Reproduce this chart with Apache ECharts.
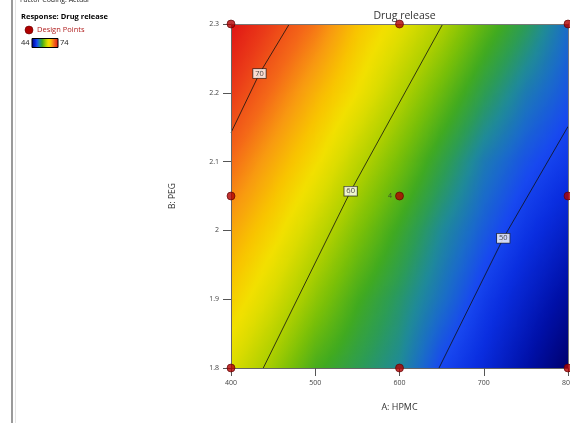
<!DOCTYPE html>
<html>
<head>
<meta charset="utf-8">
<script src="https://cdn.jsdelivr.net/npm/echarts@6/dist/echarts.min.js"></script>
<style>
html,body{margin:0;padding:0;background:#fff;}
#chart{width:570px;height:423px;}
</style>
</head>
<body>
<div id="chart"></div>
<script>
// ---- data ----
const gridA = [400, 450, 500, 550, 600, 650, 700, 750, 800];          // A: HPMC
const gridB = [1.8, 1.9, 2.0, 2.1, 2.2, 2.3];                          // B: PEG
const releaseGrid = [                                                   // rows follow gridB
  [62.0, 59.3, 56.3, 54.6, 53.0, 49.9, 48.1, 46.0, 43.7],
  [64.4, 61.7, 58.8, 56.15, 54.05, 51.7, 49.3, 47.4, 45.5],
  [66.5, 64.0, 61.1, 58.3, 55.7, 53.0, 50.8, 48.9, 47.3],
  [68.9, 66.25, 63.6, 60.6, 57.9, 55.0, 52.2, 50.4, 49.1],
  [71.5, 68.7, 65.9, 63.2, 60.3, 57.5, 54.65, 52.2, 50.5],
  [74.0, 71.1, 68.5, 65.1, 62.6, 60.05, 57.1, 54.5, 51.5]
];
const contour70 = [[400, 2.142], [433.8, 2.228], [469.2, 2.3]];
const contour60 = [[438.3, 1.8], [542.0, 2.057], [651.3, 2.3]];
const contour50 = [[646.9, 1.8], [723.2, 1.9885], [800, 2.151]];
const contourLevels = [70, 60, 50];
const contourLabelA = [433.8, 542.0, 723.2];
const contourLabelB = [2.228, 2.057, 1.9885];
const designA = [400, 600, 800, 400, 600, 800, 400, 600, 800];
const designB = [1.8, 1.8, 1.8, 2.05, 2.05, 2.05, 2.3, 2.3, 2.3];
const designLabels = ['', '', '', '', '4', '', '', '', ''];
const responseMin = 44, responseMax = 74;

// ---- colour scale (style) ----
const colorScale = [
  [43.7, '#00006e'], [46, '#0010a8'], [48.5, '#0a2ee0'], [50, '#1848f0'],
  [51.5, '#1a6cc8'], [53, '#1f8a98'], [54.5, '#2c9c55'], [56, '#40aa20'],
  [58, '#78bf08'], [60, '#b0d000'], [62, '#dcdc00'], [63.3, '#f2e000'],
  [65, '#f8c400'], [67, '#f89a10'], [69, '#f46818'], [71.5, '#ea3a18'], [74, '#e01414']
];
function hexRgb(h){return [parseInt(h.substr(1,2),16),parseInt(h.substr(3,2),16),parseInt(h.substr(5,2),16)];}
function colorOf(v){
  if (v <= colorScale[0][0]) return colorScale[0][1];
  for (let i = 1; i < colorScale.length; i++) {
    if (v <= colorScale[i][0]) {
      const a = colorScale[i-1], b = colorScale[i];
      const t = (v - a[0]) / (b[0] - a[0]);
      const ca = hexRgb(a[1]), cb = hexRgb(b[1]);
      return 'rgb(' + ca.map((c, k) => Math.round(c + (cb[k]-c)*t)).join(',') + ')';
    }
  }
  return colorScale[colorScale.length-1][1];
}

// cells built from the grid
const cells = [];
for (let j = 0; j < gridB.length - 1; j++) {
  for (let i = 0; i < gridA.length - 1; i++) {
    cells.push([gridA[i], gridA[i+1], gridB[j], gridB[j+1],
      releaseGrid[j][i], releaseGrid[j][i+1], releaseGrid[j+1][i], releaseGrid[j+1][i+1]]);
  }
}

const SUB = 5;
function renderCell(params, api) {
  const A0 = api.value(0), A1 = api.value(1), B0 = api.value(2), B1 = api.value(3);
  const c00 = api.value(4), c10 = api.value(5), c01 = api.value(6), c11 = api.value(7);
  const bil = (s, t) => c00*(1-s)*(1-t) + c10*s*(1-t) + c01*(1-s)*t + c11*s*t;
  const P00 = api.coord([A0, B0]), P11 = api.coord([A1, B1]);
  const rect = params.coordSys;
  const children = [];
  for (let a = 0; a < SUB; a++) {
    for (let b = 0; b < SUB; b++) {
      const s0 = a / SUB, s1 = (a + 1) / SUB, t0 = b / SUB, t1 = (b + 1) / SUB;
      const v00 = bil(s0, t0), v10 = bil(s1, t0), v01 = bil(s0, t1), v11 = bil(s1, t1);
      const px0 = P00[0] + (P11[0] - P00[0]) * s0, px1 = P00[0] + (P11[0] - P00[0]) * s1;
      const py0 = P00[1] + (P11[1] - P00[1]) * t0, py1 = P00[1] + (P11[1] - P00[1]) * t1;
      const dx = px1 - px0, dy = py1 - py0;
      const gx = ((v10 - v00) + (v11 - v01)) / 2 / dx;
      const gy = ((v01 - v00) + (v11 - v10)) / 2 / dy;
      const cx = px0 + dx / 2, cy = py0 + dy / 2;
      const vc = (v00 + v10 + v01 + v11) / 4;
      const g = Math.hypot(gx, gy) || 1e-9;
      const nx = gx / g, ny = gy / g;
      const k = (Math.abs(dx * nx) + Math.abs(dy * ny)) / 2 + 1;
      const stops = [];
      for (let q = 0; q <= 4; q++) {
        const t = q / 4;
        stops.push({offset: t, color: colorOf(vc + (2 * t - 1) * k * g)});
      }
      let x0 = Math.min(px0, px1) - 0.5, x1 = Math.max(px0, px1) + 0.5;
      let y0 = Math.min(py0, py1) - 0.5, y1 = Math.max(py0, py1) + 0.5;
      x0 = Math.max(x0, rect.x); x1 = Math.min(x1, rect.x + rect.width);
      y0 = Math.max(y0, rect.y); y1 = Math.min(y1, rect.y + rect.height);
      children.push({
        type: 'rect', silent: true,
        shape: {x: x0, y: y0, width: x1 - x0, height: y1 - y0},
        style: {fill: {type: 'linear', x: cx - k * nx, y: cy - k * ny, x2: cx + k * nx, y2: cy + k * ny,
          global: true, colorStops: stops}}
      });
    }
  }
  return {type: 'group', children: children};
}

const legendStops = [];
for (let s = 0; s <= 20; s++) legendStops.push({offset: s / 20, color: colorOf(responseMin + (responseMax - responseMin) * s / 20)});

const chart = echarts.init(document.getElementById('chart'), null, {renderer: 'canvas'});
const FONT = 'Open Sans';
const contourLine = (d) => ({
  type: 'line', data: d, symbol: 'none', silent: true, z: 3,
  lineStyle: {color: '#111', width: 0.8}
});
chart.setOption({
  animation: false,
  textStyle: {fontFamily: FONT},
  title: {text: 'Drug release', left: 399.5, textAlign: 'center', top: 6,
    textStyle: {fontSize: 10.5, fontWeight: 'normal', color: '#333', fontFamily: FONT}},
  grid: {left: 231, top: 24, right: 2, bottom: 55, show: false, containLabel: false, outerBoundsMode: 'none'},
  xAxis: [{
    type: 'value', min: 400, max: 800, interval: 100, z: 5,
    axisLine: {show: true, lineStyle: {color: '#666', width: 1}},
    axisTick: {show: true, length: 8, lineStyle: {color: '#555'}},
    axisLabel: {fontSize: 7, color: '#444', margin: 11, fontFamily: FONT},
    splitLine: {show: false},
    name: 'A: HPMC', nameLocation: 'middle', nameGap: 35,
    nameTextStyle: {fontSize: 9, color: '#333', fontFamily: FONT}
  }, {
    type: 'value', min: 400, max: 800, position: 'top', z: 5,
    axisLine: {show: true, lineStyle: {color: '#777', width: 1}},
    axisTick: {show: false}, axisLabel: {show: false}, splitLine: {show: false}
  }],
  yAxis: [{
    type: 'value', min: 1.8, max: 2.3, interval: 0.1, z: 5,
    axisLine: {show: true, lineStyle: {color: '#666', width: 1}},
    axisTick: {show: true, length: 8, lineStyle: {color: '#555'}},
    axisLabel: {fontSize: 7, color: '#444', margin: 12, fontFamily: FONT},
    splitLine: {show: false},
    name: 'B: PEG', nameLocation: 'middle', nameGap: 54, nameRotate: 90,
    nameTextStyle: {fontSize: 8.5, color: '#333', fontFamily: FONT}
  }, {
    type: 'value', min: 1.8, max: 2.3, position: 'right', z: 5,
    axisLine: {show: true, lineStyle: {color: '#777', width: 1}},
    axisTick: {show: false}, axisLabel: {show: false}, splitLine: {show: false}
  }],
  graphic: [
    {type: 'line', shape: {x1: 12, y1: 0, x2: 12, y2: 423}, style: {stroke: '#9a9a9a', lineWidth: 2}},
    {type: 'line', shape: {x1: 15.5, y1: 0, x2: 15.5, y2: 423}, style: {stroke: '#e4e4e4', lineWidth: 1}},
    {type: 'text', left: 20, top: -4, style: {text: 'Factor Coding: Actual', font: '7px "Open Sans"', fill: '#222'}},
    {type: 'text', left: 21, top: 13, style: {text: 'Response: Drug release', font: 'bold 7.5px "Open Sans"', fill: '#000'}},
    {type: 'circle', shape: {cx: 29, cy: 30, r: 4}, style: {fill: '#b00000', stroke: '#600', lineWidth: 0.6}},
    {type: 'text', left: 37, top: 25.5, style: {text: 'Design Points', font: '7.5px "Open Sans"', fill: '#b22222'}},
    {type: 'rect', shape: {x: 32, y: 38.5, width: 26, height: 9},
      style: {fill: {type: 'linear', x: 0, y: 0, x2: 1, y2: 0, colorStops: legendStops}, stroke: '#000', lineWidth: 1}},
    {type: 'text', left: 21, top: 38.5, style: {text: String(responseMin), font: '7.5px "Open Sans"', fill: '#222'}},
    {type: 'text', left: 60, top: 38.5, style: {text: String(responseMax), font: '7.5px "Open Sans"', fill: '#222'}}
  ],
  series: [
    {type: 'custom', renderItem: renderCell, data: cells, z: 1, silent: true,
      encode: {x: [0, 1], y: [2, 3]}},
    contourLine(contour70),
    contourLine(contour60),
    contourLine(contour50),
    {type: 'scatter', z: 4, silent: true, symbolSize: 0,
      data: contourLevels.map((lv, i) => [contourLabelA[i], contourLabelB[i], lv]),
      label: {show: true, position: 'inside', formatter: p => String(p.value[2]),
        fontSize: 7.5, color: '#222', fontFamily: FONT, backgroundColor: '#fff',
        borderColor: '#222', borderWidth: 0.8, padding: [1, 2, 0, 2]}},
    {type: 'scatter', z: 6, silent: true, symbolSize: 8,
      itemStyle: {color: '#b00000', borderColor: '#5a0000', borderWidth: 0.8},
      data: designA.map((a, i) => ({value: [a, designB[i]],
        label: {show: designLabels[i] !== '', formatter: designLabels[i], position: 'left', distance: 3,
          fontSize: 7, color: '#333', fontFamily: FONT}}))}
  ]
});
</script>
</body>
</html>
